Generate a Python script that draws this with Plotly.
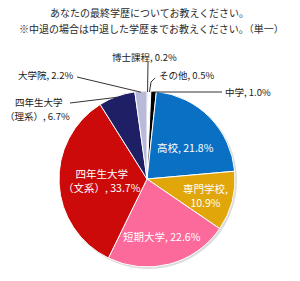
import math
import plotly.graph_objects as go

labels = ["博士課程", "その他", "中学", "高校", "専門学校", "短期大学",
          "四年生大学（文系）", "四年生大学（理系）", "大学院"]
values = [0.2, 0.5, 1.0, 21.8, 10.9, 22.6, 33.7, 6.7, 2.2]
colors = ["#1c1c5e", "#ffffff", "#000000", "#0a70c4", "#e0a60a", "#fb6a9a",
          "#cc0a0a", "#1f1f66", "#b9b9d9"]
title_lines = ["あなたの最終学歴についてお教えください。",
               "※中退の場合は中退した学歴までお教えください。（単一）"]

W, H = 300, 281
cx, cy, R = 147, 179, 88
FONT = "Noto Sans CJK JP"

fig = go.Figure(go.Pie(
    labels=labels, values=values, sort=False, direction="clockwise", rotation=0,
    marker=dict(colors=colors, line=dict(color="white", width=1)),
    textinfo="none",
    domain=dict(x=[(cx - R) / W, (cx + R) / W], y=[1 - (cy + R) / H, 1 - (cy - R) / H]),
    showlegend=False, hoverinfo="label+value",
))

def px(x, y):
    return x / W, 1 - y / H

total = sum(values)
cum = 0
mids = []
for v in values:
    mids.append((cum + v / 2) / total * 2 * math.pi)
    cum += v

def edge(i, r=R):
    a = mids[i]
    return cx + r * math.sin(a), cy - r * math.cos(a)

def lbl(i):
    return f"{labels[i]}, {values[i]:.1f}%"

# leader lines
leaders = {
    0: [(148, 62)],
    1: [(151, 82), (155, 78)],
    8: [(77, 77)],
    7: [(70, 103)],
}
shapes = [dict(type="circle", xref="paper", yref="paper", layer="below",
               x0=(cx - R + 1) / W, x1=(cx + R + 2) / W,
               y0=1 - (cy + R + 2) / H, y1=1 - (cy - R + 1) / H,
               fillcolor="#dcdcdc", line=dict(width=0))]
for i, pts in leaders.items():
    ex, ey = edge(i, R - 1)
    path_pts = [(ex, ey)] + pts
    d = "M " + " L ".join(f"{p[0]/W},{1 - p[1]/H}" for p in path_pts)
    shapes.append(dict(type="path", xref="paper", yref="paper", path=d,
                       line=dict(color="#333333", width=1)))
ex, ey = edge(2, R)
d = f"M {ex/W},{1 - 92/H} L {222/W},{1 - 92/H}"
shapes.append(dict(type="path", xref="paper", yref="paper", path=d,
                   line=dict(color="#333333", width=1)))

annotations = []
def add(text, x, y, anchor="center", size=9.5, color="#222222"):
    ax, ay = px(x, y)
    annotations.append(dict(x=ax, y=ay, xref="paper", yref="paper", text=text,
                            showarrow=False, xanchor=anchor, yanchor="middle", align="center",
                            font=dict(size=size, color=color, family=FONT)))

# outside labels
add(lbl(0), 144, 57)
add(lbl(1), 157, 75, "left")
add(lbl(2), 223, 92, "left")
add(lbl(8), 45, 75)
add("四年生大学", 39, 102)
add(f"（理系）, {values[7]:.1f}%", 37, 116)

# inside labels
add(lbl(3), 185, 147, size=10.5, color="white")
add(f"専門学校,<br>{values[4]:.1f}%", 205, 195, size=10.5, color="white")
add(lbl(5), 162, 237, size=10.5, color="white")
add(f"四年生大学<br>（文系）, {values[6]:.1f}%", 102, 180, size=10.5, color="white")

# title
add(title_lines[0], 149, 13, size=10, color="#2a2a2a")
add(title_lines[1], 151, 28, size=10, color="#2a2a2a")

fig.update_layout(
    width=W, height=H, margin=dict(l=0, r=0, t=0, b=0),
    paper_bgcolor="white", plot_bgcolor="white",
    shapes=shapes, annotations=annotations,
)
fig.write_html("out.html")
